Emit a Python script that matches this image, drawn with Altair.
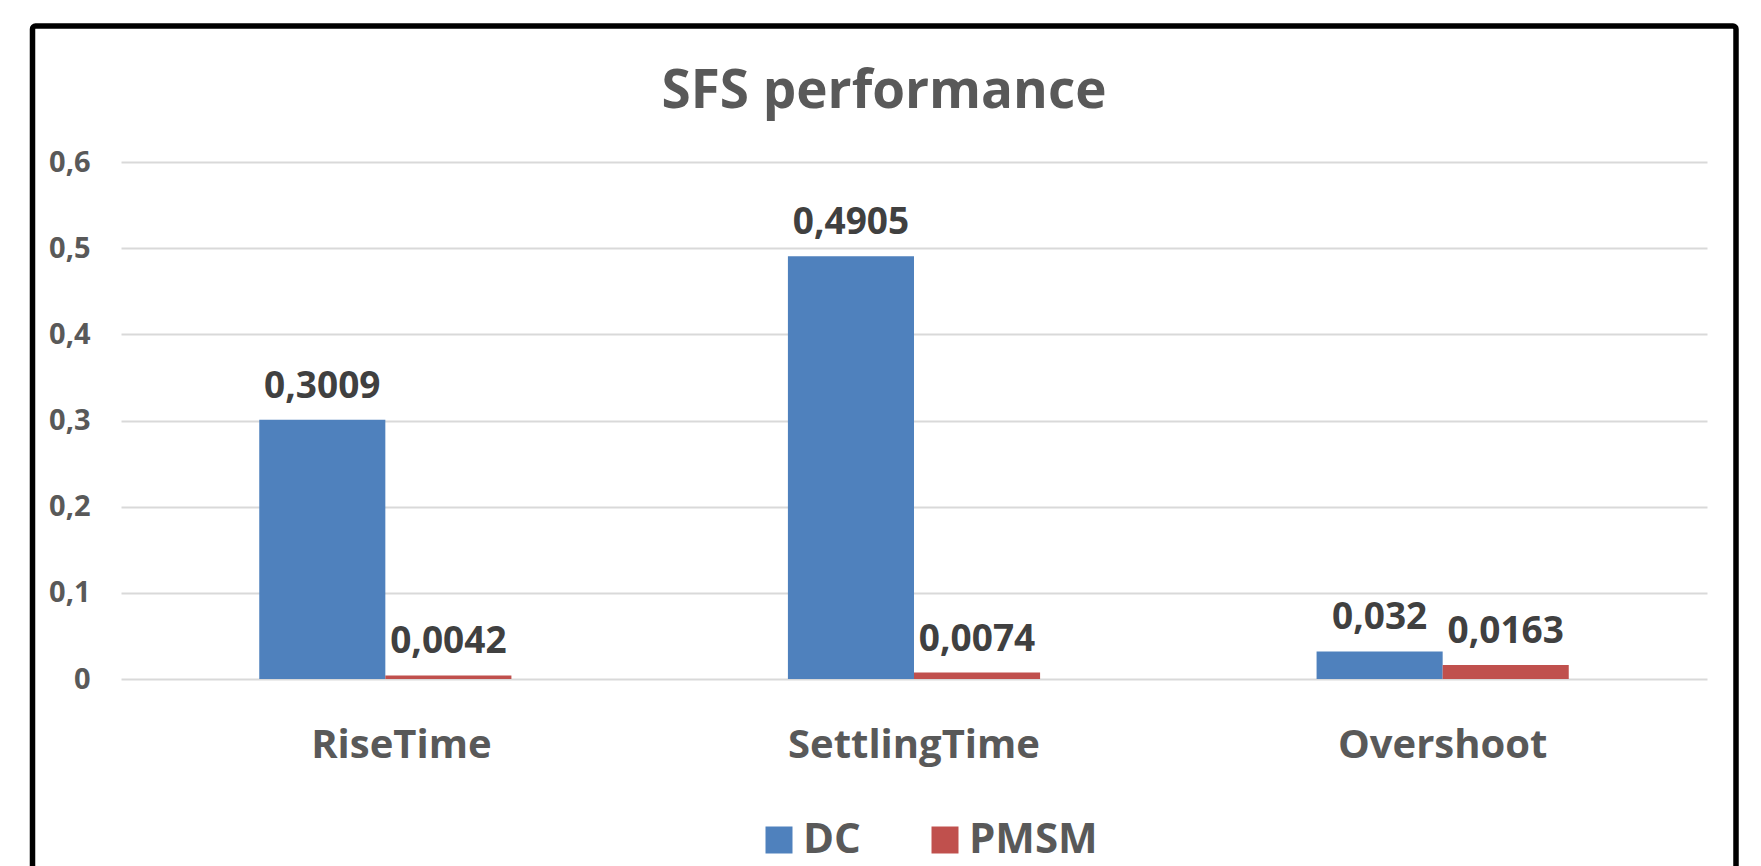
import altair as alt
import pandas as pd

categories = ["RiseTime", "SettlingTime", "Overshoot"]
series = ["DC", "PMSM"]
dc_values = [0.3009, 0.4905, 0.032]
pmsm_values = [0.0042, 0.0074, 0.0163]
colors = ["#4f81bd", "#c0504d"]
y_ticks = [0, 0.1, 0.2, 0.3, 0.4, 0.5, 0.6]

rows = []
for c, d, p in zip(categories, dc_values, pmsm_values):
    rows.append({"category": c, "series": "DC", "value": d})
    rows.append({"category": c, "series": "PMSM", "value": p})
df = pd.DataFrame(rows)

FONT = "Open Sans"
W, H = 1586, 517

x_enc = alt.X(
    "category:N",
    sort=categories,
    scale=alt.Scale(paddingInner=0.523, paddingOuter=0.2615),
    axis=alt.Axis(
        title=None, labelAngle=0, labelFont=FONT, labelFontSize=40,
        labelFontWeight="bold", labelColor="#595959", ticks=False, tickSize=0,
        domain=False, grid=False, labelPadding=78, labelBaseline="alphabetic",
        labelLimit=0,
        labelOffset={"condition": {"test": "datum.value === 'RiseTime'", "value": 16}, "value": 0},
    ),
)
xoff = alt.XOffset("series:N", sort=series,
                   scale=alt.Scale(paddingInner=0, paddingOuter=0))
y_enc = alt.Y(
    "value:Q",
    scale=alt.Scale(domain=[0, 0.6], nice=False),
    axis=alt.Axis(
        title=None, values=y_ticks,
        labelExpr="replace(format(datum.value, '.1~f'), '.', ',')",
        labelFont=FONT, labelFontSize=29, labelFontWeight="bold",
        labelColor="#595959", ticks=False, tickSize=0, domain=False,
        labelPadding=31, grid=True, gridColor="#d9d9d9", gridWidth=2,
    ),
)
color_enc = alt.Color(
    "series:N",
    scale=alt.Scale(domain=series, range=colors),
    legend=alt.Legend(
        orient="none", legendX=637, legendY=657, direction="horizontal",
        title=None, symbolType="square", symbolSize=729, symbolStrokeWidth=0,
        labelFont=FONT, labelFontSize=42, labelFontWeight="bold",
        labelColor="#595959", labelOffset=3, columnPadding=63, padding=0,
    ),
)

bars = alt.Chart(df).mark_bar().encode(x=x_enc, xOffset=xoff, y=y_enc, color=color_enc)

labels = (
    alt.Chart(df)
    .transform_calculate(label="replace(toString(datum.value), '.', ',')")
    .mark_text(font=FONT, fontSize=37, fontWeight="bold", color="#404040",
               baseline="alphabetic", dy=-22)
    .encode(x=x_enc, xOffset=xoff, y=y_enc, text="label:N")
)

border = (
    alt.Chart(pd.DataFrame({"a": [0]}))
    .mark_rect(filled=False, stroke="black", strokeWidth=5.5, cornerRadius=3)
    .encode(x=alt.value(-88.5), x2=alt.value(1615), y=alt.value(-136), y2=alt.value(760))
)

chart = (
    alt.layer(bars, labels, border)
    .properties(
        width=W, height=H,
        title=alt.TitleParams(
            text="SFS performance", font=FONT, fontSize=53, fontWeight="bold",
            color="#595959", anchor="middle", dx=-30, offset=-138,
            baseline="alphabetic",
        ),
        autosize=alt.AutoSizeParams(type="none"),
        padding={"left": 113, "top": 154, "right": 33, "bottom": 187},
    )
    .configure_view(stroke=None)
)

chart.save("out.html", embed_options={"renderer": "svg", "actions": False})
